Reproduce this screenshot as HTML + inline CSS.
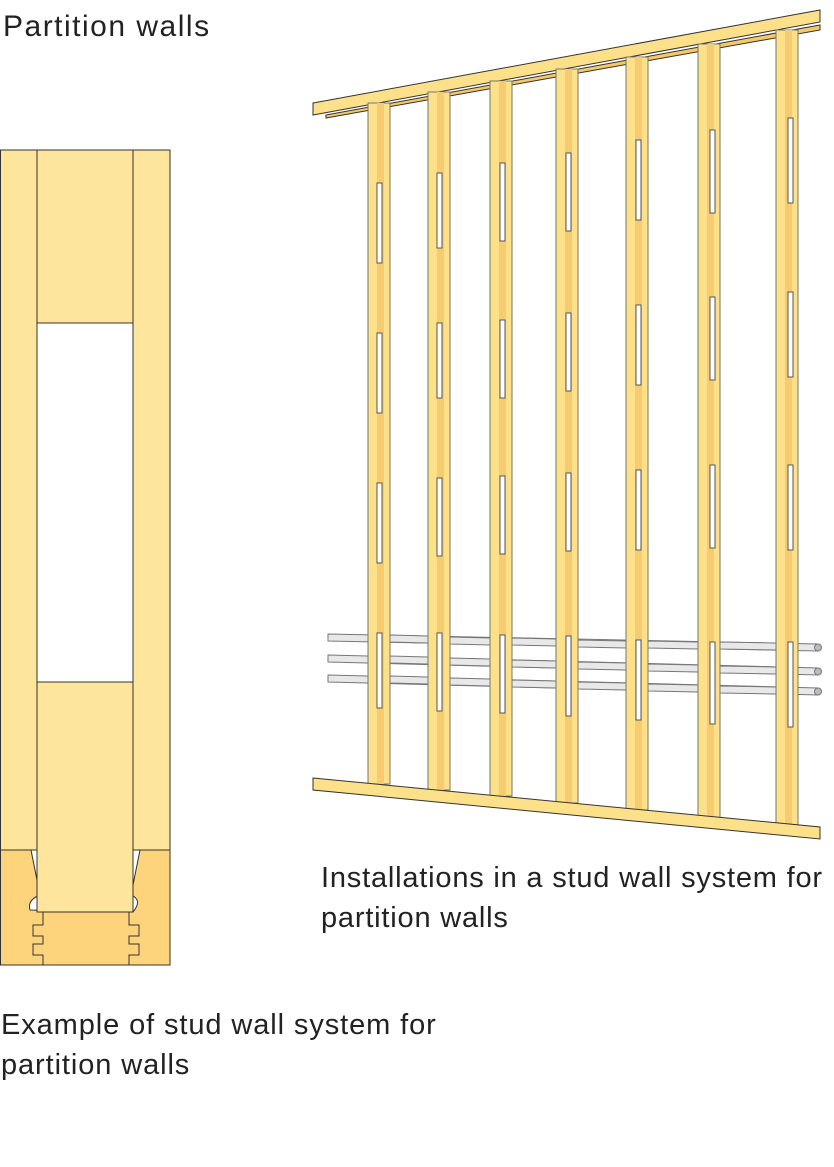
<!DOCTYPE html>
<html><head><meta charset="utf-8"><style>
body{margin:0;background:#fff;width:834px;height:1167px;overflow:hidden;font-family:"Liberation Sans",sans-serif;}
.t{position:absolute;color:#222;font-size:29px;line-height:40px;letter-spacing:0.8px;}
</style></head><body>
<div class="t" style="left:3px;top:7px;font-size:30px;letter-spacing:1.5px;">Partition walls</div>
<div class="t" style="left:321px;top:858px;">Installations in a stud wall system for<br>partition walls</div>
<div class="t" style="left:1px;top:1005px;letter-spacing:0.9px;">Example of stud wall system for<br>partition walls</div>
<svg width="834" height="1167" style="position:absolute;left:0;top:0" stroke="#333" stroke-width="1">
<!-- left section -->
<rect x="0.5" y="150" width="37" height="700" fill="#fde59b"/>
<rect x="133" y="150" width="37" height="700" fill="#fde59b"/>
<rect x="0.5" y="850" width="169.5" height="115" fill="#fdd47c"/>
<path d="M31 850 L40 895 Q27 900 30 910 L133 912 Q143 900 131 895 L140 850 Z" fill="#fff"/>
<path d="M43 912 L43 925 L33 925 L33 936 L43 936 L43 944 L33 944 L33 955 L43 955 L43 965" fill="none"/>
<path d="M129 912 L129 925 L139 925 L139 936 L129 936 L129 944 L139 944 L139 955 L129 955 L129 965" fill="none"/>
<rect x="37" y="150" width="96" height="762" fill="#fde59b"/>
<rect x="37" y="323" width="96" height="359" fill="#fff"/>
<!-- pipes -->
<g fill="#e8e8e8" stroke="#777">
<polygon points="328,634 818,644 818,651 328,641"/>
<polygon points="328,655 818,668 818,675 328,662"/>
<polygon points="328,675 818,688 818,695 328,682"/>
<circle cx="818" cy="647.5" r="3.5" fill="#bbb"/>
<circle cx="818" cy="671.5" r="3.5" fill="#bbb"/>
<circle cx="818" cy="691.5" r="3.5" fill="#bbb"/>
</g>
<!-- top plate -->
<polygon points="313,103 820,10 820,22 313,115" fill="#fde08a"/>
<polygon points="326,115 820,25 820,30 326,118" fill="#f5c868"/>
<!-- studs -->
<g stroke="#776">
<g fill="#fde08a">
<rect x="368" y="103" width="22" height="681"/><rect x="428" y="92" width="22" height="698"/>
<rect x="490" y="81" width="22" height="715"/><rect x="556" y="69" width="22" height="734"/>
<rect x="626" y="57" width="22" height="753"/><rect x="698" y="44" width="22" height="774"/>
<rect x="776" y="30" width="22" height="796"/>
</g>
<g fill="#f7cc70" stroke="none">
<rect x="377" y="103" width="7" height="681"/><rect x="437" y="92" width="7" height="698"/>
<rect x="499" y="81" width="7" height="715"/><rect x="565" y="69" width="7" height="734"/>
<rect x="635" y="57" width="7" height="753"/><rect x="707" y="44" width="7" height="774"/>
<rect x="785" y="30" width="7" height="796"/>
</g>
<g fill="#fff" stroke="#555">
<rect x="377" y="183" width="5" height="80"/><rect x="377" y="333" width="5" height="80"/><rect x="377" y="483" width="5" height="80"/><rect x="377" y="633" width="5" height="75"/>
<rect x="437" y="173" width="5" height="75"/><rect x="437" y="323" width="5" height="75"/><rect x="437" y="478" width="5" height="78"/><rect x="437" y="633" width="5" height="78"/>
<rect x="500" y="163" width="5" height="78"/><rect x="500" y="320" width="5" height="78"/><rect x="500" y="476" width="5" height="78"/><rect x="500" y="635" width="5" height="78"/>
<rect x="566" y="153" width="5" height="78"/><rect x="566" y="313" width="5" height="78"/><rect x="566" y="473" width="5" height="78"/><rect x="566" y="636" width="5" height="80"/>
<rect x="636" y="140" width="5" height="80"/><rect x="636" y="305" width="5" height="80"/><rect x="636" y="470" width="5" height="80"/><rect x="636" y="640" width="5" height="80"/>
<rect x="710" y="130" width="5" height="83"/><rect x="710" y="297" width="5" height="83"/><rect x="710" y="465" width="5" height="83"/><rect x="710" y="642" width="5" height="82"/>
<rect x="788" y="118" width="5" height="85"/><rect x="788" y="292" width="5" height="85"/><rect x="788" y="465" width="5" height="85"/><rect x="788" y="642" width="5" height="85"/>
</g>
</g>
<!-- pipe fronts between studs -->
<g fill="#e8e8e8" stroke="#777">
<polygon points="390,635 428,636 428,643 390,642"/><polygon points="450,637 490,638 490,645 450,644"/><polygon points="512,638 556,639 556,646 512,645"/><polygon points="578,640 626,641 626,648 578,647"/><polygon points="648,641 698,642 698,649 648,648"/><polygon points="720,642 776,643 776,650 720,649"/>
<polygon points="390,656 428,657 428,664 390,663"/><polygon points="450,658 490,659 490,666 450,665"/><polygon points="512,660 556,661 556,668 512,667"/><polygon points="578,662 626,663 626,670 578,669"/><polygon points="648,664 698,665 698,672 648,671"/><polygon points="720,666 776,667 776,674 720,673"/>
<polygon points="390,676 428,677 428,684 390,683"/><polygon points="450,678 490,679 490,686 450,685"/><polygon points="512,680 556,681 556,688 512,687"/><polygon points="578,682 626,683 626,690 578,689"/><polygon points="648,684 698,685 698,692 648,691"/><polygon points="720,686 776,687 776,694 720,693"/>
</g>
<!-- bottom plate -->
<polygon points="313,778 820,827 820,839 313,790" fill="#fde08a"/>
</svg>
</body></html>
